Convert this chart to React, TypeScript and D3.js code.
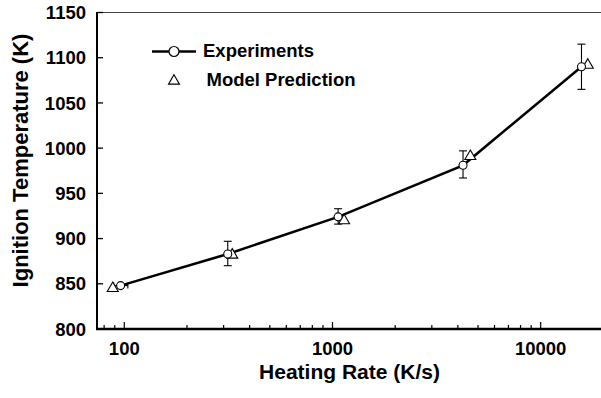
import * as d3 from "d3";

// experiments (circles) with error bars
const expRate = [96, 314, 1064, 4236, 15700];
const expTemp = [848, 883, 924, 981, 1090];
const expLow = [848, 870, 916, 967, 1065];
const expHigh = [848, 897, 933, 997, 1115];
const expRateLow = [89, 314, 1064, 4236, 15700];
const expRateHigh = [104, 314, 1064, 4236, 15700];

// model prediction (triangles)
const modRate = [88, 330, 1137, 4592, 16830];
const modTemp = [846, 883, 921, 992, 1093];

const yTicks = [800, 850, 900, 950, 1000, 1050, 1100, 1150];
const xLabels = [100, 1000, 10000];

const legendLabels = ["Experiments", "Model Prediction"];

const font = "'Liberation Sans', Arial, Helvetica, sans-serif";

export default function App() {
  const left = 97;
  const right = 601;
  const top = 12.5;
  const bottom = 329;

  const x = d3.scaleLog().domain([100, 10000]).range([124.3, 540.7]);
  const y = d3.scaleLinear().domain([800, 1150]).range([bottom, top]);

  const xMin = x.invert(left);
  const xMax = x.invert(right);
  const xTicks = d3.scaleLog().domain([xMin, xMax]).ticks();

  const line = d3
    .line<number>()
    .x((d, i) => x(expRate[i]))
    .y((d) => y(d));

  const tri = d3.symbol().type(d3.symbolTriangle).size(52);

  return (
    <div style={{ position: "fixed", left: 0, top: 0 }}>
      <svg width={601} height={398} style={{ display: "block" }}>
        <rect width={601} height={398} fill="white" />

        {/* top frame line */}
        <line x1={left} x2={right} y1={top} y2={top} stroke="#444" strokeWidth={1.2} />

        {/* y axis */}
        <line x1={left} x2={left} y1={top - 0.5} y2={bottom + 1} stroke="black" strokeWidth={2} />
        {yTicks.map((t) => (
          <g key={t}>
            <line x1={left} x2={left + 6} y1={y(t)} y2={y(t)} stroke="black" strokeWidth={1.3} />
            <text
              x={86}
              y={y(t)}
              dy="0.36em"
              textAnchor="end"
              fontFamily={font}
              fontWeight="bold"
              fontSize={18.5}
            >
              {t}
            </text>
          </g>
        ))}

        {/* x axis */}
        <line x1={left - 1} x2={right} y1={bottom} y2={bottom} stroke="black" strokeWidth={2.5} />
        {xTicks.map((t) => {
          const major = xLabels.includes(Math.round(t));
          return (
            <line
              key={t}
              x1={x(t)}
              x2={x(t)}
              y1={bottom}
              y2={bottom - (major ? 7 : 4)}
              stroke="black"
              strokeWidth={1.2}
            />
          );
        })}
        {xLabels.map((t) => (
          <text
            key={t}
            x={x(t)}
            y={355}
            textAnchor="middle"
            fontFamily={font}
            fontWeight="bold"
            fontSize={18.5}
          >
            {t}
          </text>
        ))}

        {/* axis titles */}
        <text
          x={349.5}
          y={379}
          textAnchor="middle"
          fontFamily={font}
          fontWeight="bold"
          fontSize={21}
        >
          Heating Rate (K/s)
        </text>
        <text
          transform={`translate(28,160.5) rotate(-90)`}
          textAnchor="middle"
          fontFamily={font}
          fontWeight="bold"
          fontSize={22}
        >
          Ignition Temperature (K)
        </text>

        {/* connecting line */}
        <path d={line(expTemp) ?? ""} fill="none" stroke="black" strokeWidth={2.5} />

        {/* error bars */}
        {expRate.map((r, i) => (
          <g key={"e" + i} stroke="black" strokeWidth={1.1}>
            {expHigh[i] !== expLow[i] && (
              <>
                <line x1={x(r)} x2={x(r)} y1={y(expLow[i])} y2={y(expHigh[i])} />
                <line x1={x(r) - 4} x2={x(r) + 4} y1={y(expLow[i])} y2={y(expLow[i])} />
                <line x1={x(r) - 4} x2={x(r) + 4} y1={y(expHigh[i])} y2={y(expHigh[i])} />
              </>
            )}
            {expRateHigh[i] !== expRateLow[i] && (
              <>
                <line x1={x(expRateLow[i])} x2={x(expRateHigh[i])} y1={y(expTemp[i])} y2={y(expTemp[i])} />
                <line x1={x(expRateLow[i])} x2={x(expRateLow[i])} y1={y(expTemp[i]) - 3} y2={y(expTemp[i]) + 3} />
                <line x1={x(expRateHigh[i])} x2={x(expRateHigh[i])} y1={y(expTemp[i]) - 3} y2={y(expTemp[i]) + 3} />
              </>
            )}
          </g>
        ))}

        {/* model triangles */}
        {modRate.map((r, i) => (
          <path
            key={"m" + i}
            d={tri() ?? ""}
            transform={`translate(${x(r)},${y(modTemp[i]) + 1})`}
            fill="white"
            stroke="black"
            strokeWidth={1.1}
          />
        ))}

        {/* experiment circles */}
        {expRate.map((r, i) => (
          <circle
            key={"c" + i}
            cx={x(r)}
            cy={y(expTemp[i])}
            r={4}
            fill="white"
            stroke="black"
            strokeWidth={1.1}
          />
        ))}

        {/* legend */}
        <line x1={152} x2={196} y1={51.5} y2={51.5} stroke="black" strokeWidth={2.5} />
        <circle cx={174} cy={51.5} r={5} fill="white" stroke="black" strokeWidth={1.2} />
        <text x={203} y={57} fontFamily={font} fontWeight="bold" fontSize={18.5}>
          {legendLabels[0]}
        </text>
        <path
          d={tri() ?? ""}
          transform={`translate(174,81)`}
          fill="white"
          stroke="black"
          strokeWidth={1.1}
        />
        <text x={206.5} y={86} fontFamily={font} fontWeight="bold" fontSize={18.5}>
          {legendLabels[1]}
        </text>
      </svg>
    </div>
  );
}
